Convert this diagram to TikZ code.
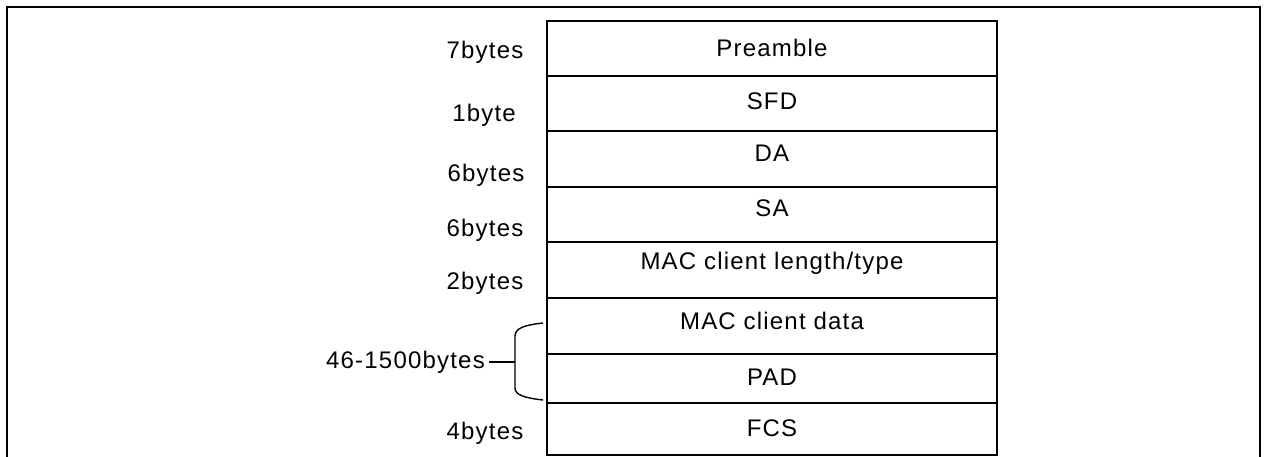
\documentclass[tikz,border=0pt]{standalone}
\usepackage{fontspec}
\setmainfont{Liberation Sans}[LetterSpace=5]
\begin{document}
\begin{tikzpicture}[x=1pt,y=-1pt,
  frameline/.style={line width=2.2pt},
  cellbox/.style={draw,line width=1.4pt,minimum width=450pt,inner sep=0pt,outer sep=0pt,anchor=north west},
  celltext/.style={font=\fontsize{24}{24}\selectfont,inner sep=0pt},
  sizetext/.style={font=\fontsize{24}{24}\selectfont,inner sep=0pt},
  bracketline/.style={line width=1.4pt}]
\useasboundingbox (0,0) rectangle (1265,457);
% outer frame
\draw[frameline] (7,457) -- (7,7) -- (1260,7) -- (1260,457);
% cells
\node[cellbox,minimum height=55pt] (c1) at (547,21) {};
\node[cellbox,minimum height=55pt] (c2) at (547,76) {};
\node[cellbox,minimum height=56pt] (c3) at (547,131) {};
\node[cellbox,minimum height=55pt] (c4) at (547,187) {};
\node[cellbox,minimum height=56pt] (c5) at (547,242) {};
\node[cellbox,minimum height=56pt] (c6) at (547,298) {};
\node[cellbox,minimum height=49pt] (c7) at (547,354) {};
\node[cellbox,minimum height=52pt] (c8) at (547,403) {};
% cell texts
\node[celltext] (t1) at (772,48) {Preamble};
\node[celltext] (t2) at (772,101) {SFD};
\node[celltext] (t3) at (772,153) {DA};
\node[celltext] (t4) at (772,208) {SA};
\node[celltext] (t5) at (772,263) {MAC client length/type};
\node[celltext] (t6) at (772,321) {MAC client data};
\node[celltext] (t7) at (772,377) {PAD};
\node[celltext] (t8) at (772,428) {FCS};
% size labels
\node[sizetext] (s1) at (485,52) {7bytes};
\node[sizetext] (s2) at (484,115) {1byte};
\node[sizetext] (s3) at (486,175) {6bytes};
\node[sizetext] (s4) at (485,230) {6bytes};
\node[sizetext] (s5) at (485,283) {2bytes};
\node[sizetext] (s8) at (485,433) {4bytes};
\node[sizetext,anchor=east] (s6) at (485,362) {46-1500bytes};
% bracket
\coordinate (bt) at (543,323);
\coordinate (bb) at (543,400);
\coordinate (bm) at (515,362);
\draw[bracketline] (bt) .. controls (525,325) and (515,328) .. (515,336) -- (515,388) .. controls (515,395) and (525,398) .. (bb);
\draw[bracketline] (s6.east) ++(4,0) -- (bm);
\end{tikzpicture}
\end{document}
